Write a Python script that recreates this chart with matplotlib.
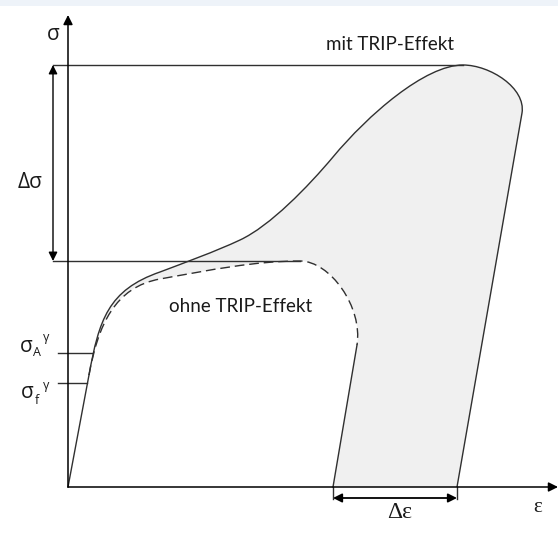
"""
Schematische Spannungs-Dehnungs-Kurve mit / ohne TRIP-Effekt
"""
import matplotlib
matplotlib.use('Agg')
import matplotlib.pyplot as plt
from matplotlib.path import Path
from matplotlib.patches import PathPatch, Rectangle

# ── Daten (ε, σ in willkürlichen Einheiten, Ursprung = 0) ──
# elastische Gerade bis zum Abzweigpunkt
elastic_eps = [0, 21]
elastic_sig = [0, 112]

# mit TRIP-Effekt: kubische Bezier-Segmente (Kontrollpunkt, Kontrollpunkt, Endpunkt)
mit_eps = [21, 31, 40, 92, 117, 147, 172, 202, 240, 265, 300, 357, 395, 422, 458, 454]
mit_sig = [112, 167, 197, 215, 224.5, 235.3, 247, 261, 300.3, 330, 372, 422, 422, 422, 399, 374]
mit_end = [389, 0]          # Entlastungsgerade bis ε-Achse

# ohne TRIP-Effekt
ohne_eps = [21, 30, 47, 92, 142, 187, 232, 262, 295, 289]
ohne_sig = [112, 162, 200, 208, 217, 226, 226, 226, 180, 142]
ohne_end = [265, 0]

# Kennwerte
sig_max = 422
sig_ohne = 226
sig_A = 134
sig_f = 104
eps_A = 24
eps_f = 19

LINE = '#303030'
FILL = '#f0f0f0'
TXT = '#1a1a1a'

fig = plt.figure(figsize=(5.58, 5.38), dpi=100)
ax = fig.add_axes([0, 0, 1, 1])
ax.set_xlim(-68, 490)
ax.set_ylim(-51, 487)
ax.axis('off')


def bezier_path(eps, sig):
    verts = list(zip(eps, sig))
    codes = [Path.MOVETO] + [Path.CURVE4] * (len(verts) - 1)
    return verts, codes


# ── Fläche zwischen beiden Kurven ──
v_mit, c_mit = bezier_path(mit_eps, mit_sig)
v_ohne, c_ohne = bezier_path(ohne_eps, ohne_sig)
fill_verts = v_mit + [tuple(mit_end), tuple(ohne_end)] + v_ohne[::-1] + [v_mit[0]]
fill_codes = c_mit + [Path.LINETO, Path.LINETO, Path.LINETO] + [Path.CURVE4] * (len(v_ohne) - 1) + [Path.CLOSEPOLY]
ax.add_patch(PathPatch(Path(fill_verts, fill_codes), facecolor=FILL, edgecolor='none', zorder=1))

# ── Kurven ──
ax.add_patch(PathPatch(Path(v_ohne, c_ohne), facecolor='none', edgecolor=LINE,
                       lw=1.0, ls=(0, (7, 3.5)), zorder=3))
ax.plot([ohne_eps[-1], ohne_end[0]], [ohne_sig[-1], ohne_end[1]], color=LINE, lw=1.0, zorder=3)
ax.plot(elastic_eps, elastic_sig, color=LINE, lw=1.0, zorder=3)
ax.add_patch(PathPatch(Path(v_mit + [tuple(mit_end)], c_mit + [Path.LINETO]),
                       facecolor='none', edgecolor=LINE, lw=1.0, zorder=3))

# ── Achsen mit Pfeilen ──
ax.annotate('', xy=(0, 472), xytext=(0, 0),
            arrowprops=dict(arrowstyle='-|>', color='black', lw=1.1, mutation_scale=14, shrinkA=0, shrinkB=0))
ax.annotate('', xy=(490, 0), xytext=(0, 0),
            arrowprops=dict(arrowstyle='-|>', color='black', lw=1.1, mutation_scale=14, shrinkA=0, shrinkB=0))

# ── Hilfslinien ──
ax.plot([-15, mit_eps[12]], [sig_max, sig_max], color=LINE, lw=1.0, zorder=2)
ax.plot([-15, ohne_eps[6]], [sig_ohne, sig_ohne], color=LINE, lw=1.0, zorder=2)
ax.plot([-10, eps_A], [sig_A, sig_A], color=LINE, lw=1.0, zorder=2)
ax.plot([-10, eps_f], [sig_f, sig_f], color=LINE, lw=1.0, zorder=2)

# Δσ-Pfeil
ax.annotate('', xy=(-15, sig_max), xytext=(-15, sig_ohne),
            arrowprops=dict(arrowstyle='<|-|>', color='black', lw=1.0, mutation_scale=13, shrinkA=0, shrinkB=0))

# Δε-Pfeil
ax.plot([ohne_end[0], ohne_end[0]], [0, -12], color=LINE, lw=1.0)
ax.plot([mit_end[0], mit_end[0]], [0, -12], color=LINE, lw=1.0)
ax.annotate('', xy=(ohne_end[0], -11), xytext=(mit_end[0], -11),
            arrowprops=dict(arrowstyle='<|-|>', color='black', lw=1.3, mutation_scale=13, shrinkA=0, shrinkB=0))

# ── Beschriftung ──
SANS = ['Open Sans', 'DejaVu Sans']
LABEL = ['Lato', 'Open Sans', 'DejaVu Sans']
SERIF = ['Liberation Serif', 'DejaVu Serif']
ax.text(-15, 452, 'σ', fontsize=15, family=SANS, color=TXT, ha='center', va='center')
ax.text(470, -20, 'ε', fontsize=15, family=SERIF, color=TXT, ha='center', va='center')
ax.text(-38, 305, 'Δσ', fontsize=15, family=SANS, color=TXT, ha='center', va='center')
ax.text(332, -25, 'Δε', fontsize=17, family=SERIF, color=TXT, ha='center', va='center')
ax.text(322, 443, 'mit TRIP-Effekt', fontsize=13.5, family=LABEL, color=TXT, ha='center', va='center')
ax.text(173, 180, 'ohne TRIP-Effekt', fontsize=13.5, family=LABEL, color=TXT, ha='center', va='center')

# σ_A^γ
ax.text(-42, 141, 'σ', fontsize=15, family=SANS, color=TXT, ha='center', va='center')
ax.text(-31, 135, 'A', fontsize=9, family=SANS, color=TXT, ha='center', va='center')
ax.text(-22, 149, 'γ', fontsize=9, family=SANS, color=TXT, ha='center', va='center')
# σ_f^γ
ax.text(-41, 95, 'σ', fontsize=15, family=SANS, color=TXT, ha='center', va='center')
ax.text(-31, 87, 'f', fontsize=9, family=SANS, color=TXT, ha='center', va='center')
ax.text(-22, 101, 'γ', fontsize=9, family=SANS, color=TXT, ha='center', va='center')

# heller Streifen oben
fig.patches.append(Rectangle((0, 1 - 6 / 538), 1, 6 / 538, transform=fig.transFigure,
                             facecolor='#eef3f9', edgecolor='none'))

fig.savefig('out.png', dpi=100, facecolor='white')
